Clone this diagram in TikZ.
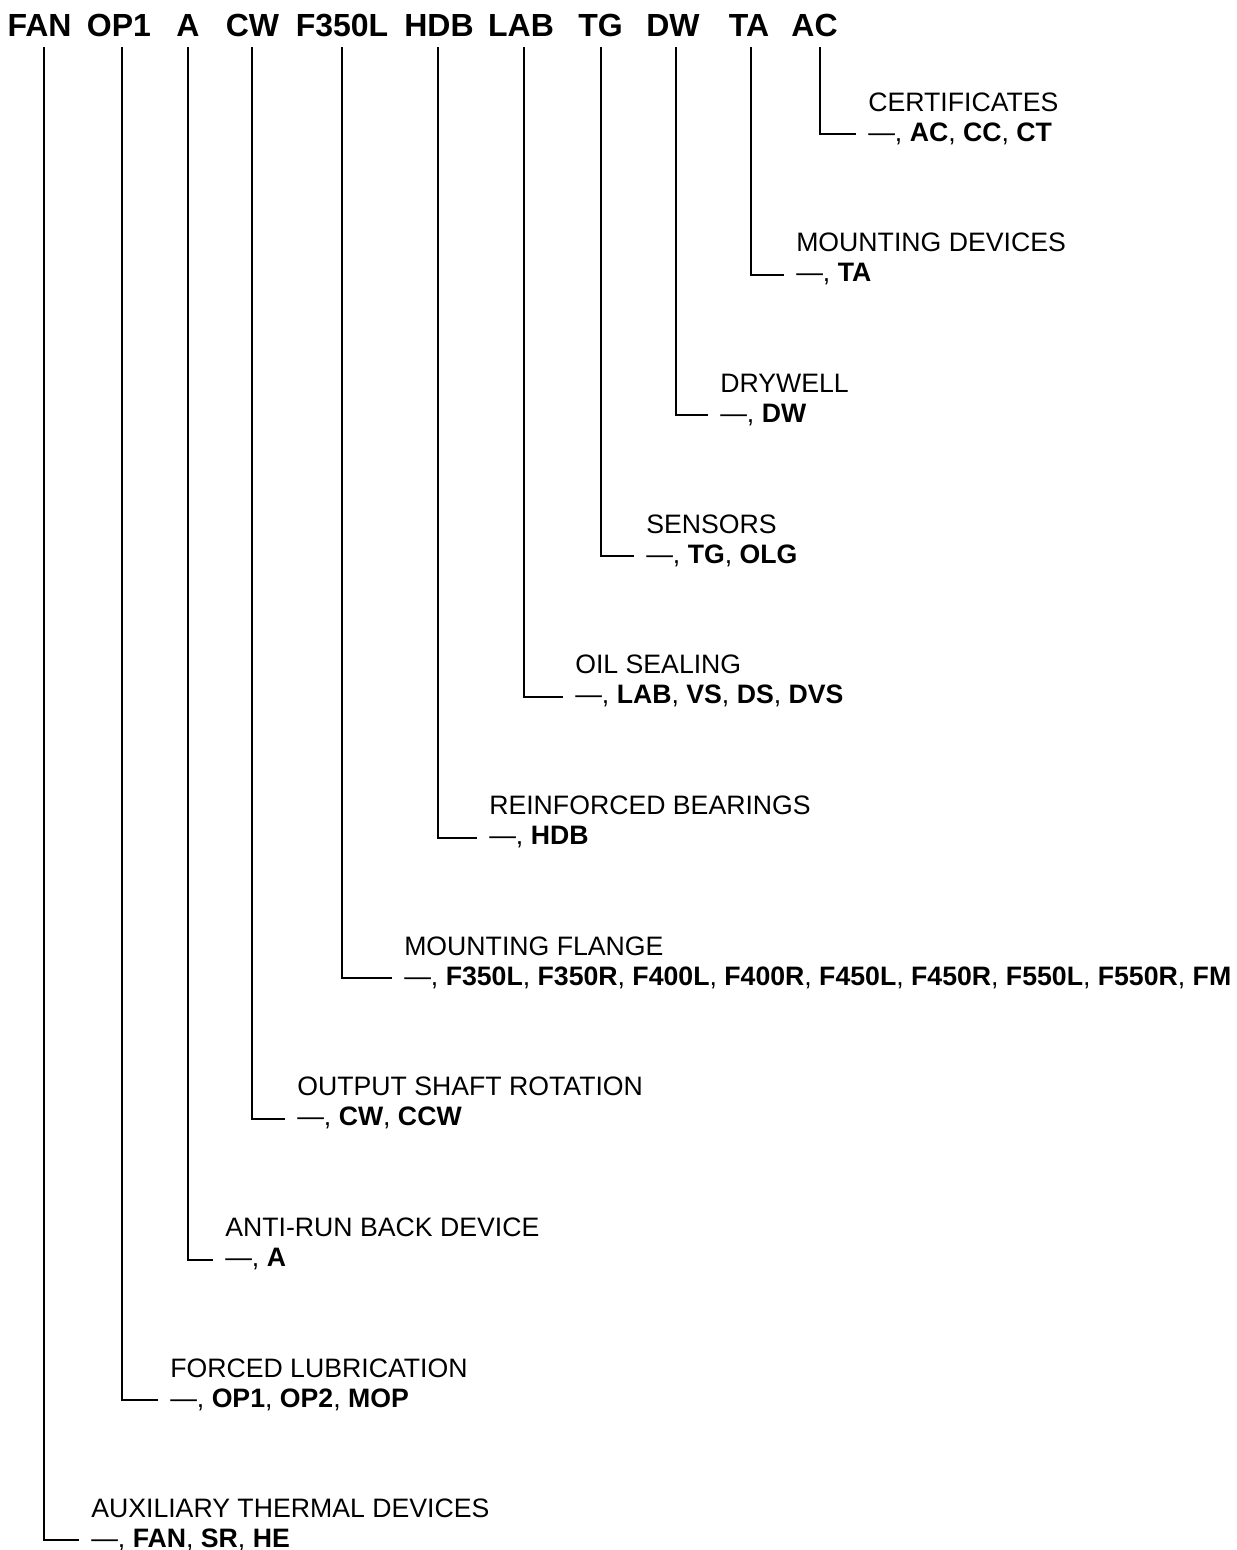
\documentclass[tikz,border=0pt]{standalone}
\usepackage{fontspec}
\setmainfont{Liberation Sans}
\usetikzlibrary{calc}
\newcommand\mkbranch[6]{%
  \coordinate (t#1) at (#2,47);
  \node[ttl] (l#1) at (#3,{#4-23}) {#5};
  \node[codes] (c#1) at (#3,{#4+7}) {\textemdash, #6};
  \draw[lead] (t#1) |- ($(c#1.base west)+(-12,-7)$);
}
\begin{document}
\begin{tikzpicture}[x=0.75pt,y=-0.75pt,
  hdr/.style={font=\fontsize{24}{28}\selectfont\bfseries, inner sep=0pt, anchor=base},
  ttl/.style={font=\fontsize{20}{24}\selectfont, inner sep=0pt, anchor=base west},
  codes/.style={font=\fontsize{20}{24}\selectfont, inner sep=0pt, anchor=base west},
  lead/.style={line width=1.5pt, line join=miter}]
\useasboundingbox (0,0) rectangle (1237,1550);
% header code
\node[hdr] (hFAN) at (39.5,36) {FAN};
\node[hdr] (hOP) at (119,36) {OP1};
\node[hdr] (hA) at (188,36) {A};
\node[hdr] (hCW) at (252.5,36) {CW};
\node[hdr] (hFL) at (342,36) {F350L};
\node[hdr] (hHDB) at (439,36) {HDB};
\node[hdr] (hLAB) at (521,36) {LAB};
\node[hdr] (hTG) at (600.5,36) {TG};
\node[hdr] (hDW) at (673,36) {DW};
\node[hdr] (hTA) at (749,36) {TA};
\node[hdr] (hAC) at (814.5,36) {AC};
% branches
\mkbranch{AC}{820}{868}{134}{CERTIFICATES}{\textbf{AC}, \textbf{CC}, \textbf{CT}}
\mkbranch{TA}{751}{796}{274.7}{MOUNTING DEVICES}{\textbf{TA}}
\mkbranch{DW}{676}{720}{415.4}{DRYWELL}{\textbf{DW}}
\mkbranch{TG}{601}{646}{556.1}{SENSORS}{\textbf{TG}, \textbf{OLG}}
\mkbranch{LAB}{524}{575}{696.8}{OIL SEALING}{\textbf{LAB}, \textbf{VS}, \textbf{DS}, \textbf{DVS}}
\mkbranch{HDB}{438}{489}{837.5}{REINFORCED BEARINGS}{\textbf{HDB}}
\mkbranch{FL}{342}{404}{978.2}{MOUNTING FLANGE}{\textbf{F350L}, \textbf{F350R}, \textbf{F400L}, \textbf{F400R}, \textbf{F450L}, \textbf{F450R}, \textbf{F550L}, \textbf{F550R}, \textbf{FM}}
\mkbranch{CW}{251.5}{297}{1118.9}{OUTPUT SHAFT ROTATION}{\textbf{CW}, \textbf{CCW}}
\mkbranch{A}{188}{225}{1259.6}{ANTI-RUN BACK DEVICE}{\textbf{A}}
\mkbranch{OP}{122}{170}{1400.3}{FORCED LUBRICATION}{\textbf{OP1}, \textbf{OP2}, \textbf{MOP}}
\mkbranch{FAN}{43.5}{91}{1540}{AUXILIARY THERMAL DEVICES}{\textbf{FAN}, \textbf{SR}, \textbf{HE}}
\end{tikzpicture}
\end{document}
